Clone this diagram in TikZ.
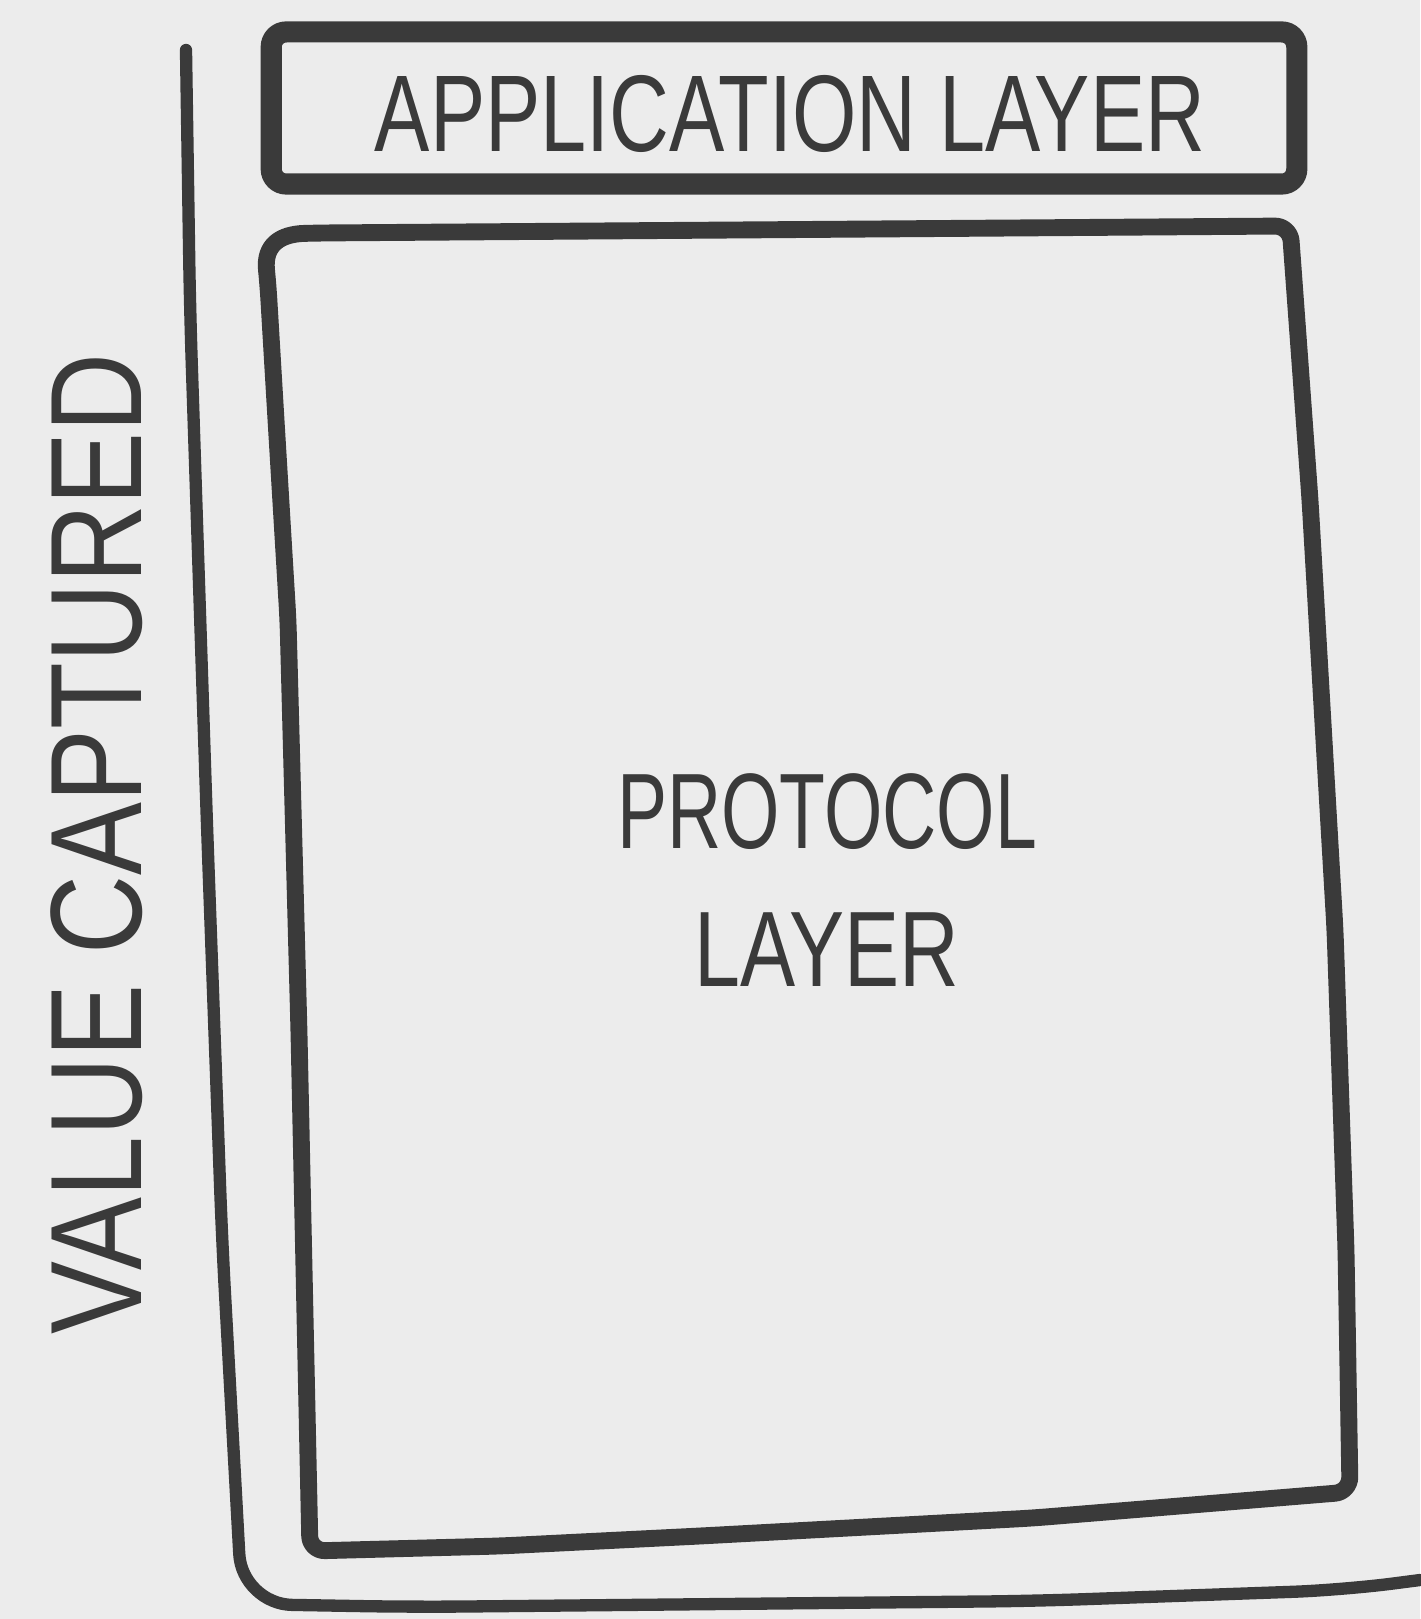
\documentclass[tikz,border=0pt]{standalone}
\usepackage{fontspec}
\setmainfont{Liberation Sans}
\definecolor{ink}{HTML}{3A3A3A}
\definecolor{paper}{HTML}{ECECEC}
\begin{document}
\begin{tikzpicture}[x=0.01cm, y=-0.01cm,
		inkline/.style={draw=ink, line cap=round, line join=round},
		hand/.style={text=ink, inner sep=0pt}]
		\fill[paper] (0,0) rectangle (1420,1619);
		\useasboundingbox (0,0) rectangle (1420,1619);
		% axis
		\draw[inkline, line width=3.5pt, rounded corners=0.5cm] (186,50) -- (190,310) -- (207,826) -- (222,1239) -- (242,1604) -- (413,1607) -- (1033,1601) -- (1343,1590) -- (1420,1580);
		% boxes
		\node[hand, draw=ink, line width=6pt, rounded corners=0.15cm, minimum width=10.25cm, minimum height=1.52cm] (appbox) at (784,108) {};
		\node[hand, font=\fontsize{31}{37}\selectfont] (applabel) at (790,114) {\scalebox{0.76}[1]{APPLICATION LAYER}};
		\draw[inkline, line width=4.8pt, rounded corners=0.15cm] (268,285) .. controls (264,245) and (280,234) .. (320,233) -- (1290,226) -- (1310,500) -- (1335,930) -- (1346,1250) -- (1350,1492) -- (1033,1518) -- (700,1536) -- (500,1546) -- (310,1551) -- (299,1033) -- (288,620) -- (276,420) -- cycle;
		\node[hand, font=\fontsize{30.5}{39.5}\selectfont, align=center] (protlabel) at (827,880) {\scalebox{0.70}[1]{PROTOCOL}\\\scalebox{0.77}[1]{LAYER}};
		\node[hand, rotate=90, font=\fontsize{37}{44}\selectfont] (valuelabel) at (97,844) {\scalebox{0.84}[1]{VALUE CAPTURED}};
	\end{tikzpicture}
\end{document}
